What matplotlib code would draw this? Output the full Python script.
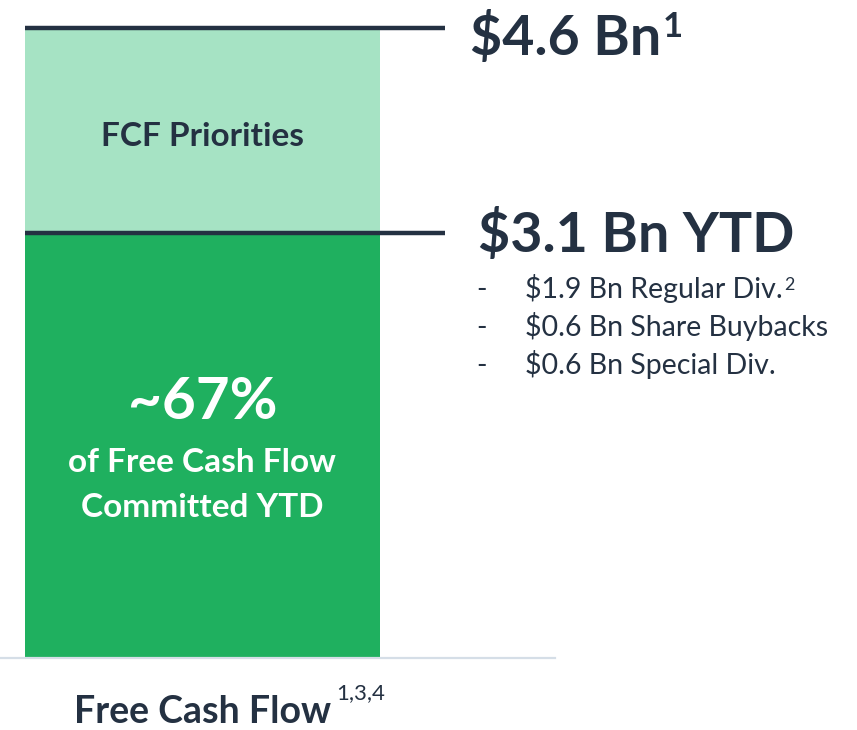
import matplotlib
matplotlib.use("Agg")
import matplotlib.pyplot as plt

# --- Data ---
categories = ["Free Cash Flow"]
committed = [3.1]          # $ Bn committed YTD
priorities = [1.5]         # remaining FCF priorities ($ Bn)
total = [4.6]              # total FCF ($ Bn)
total_label = "$4.6 Bn"
committed_label = "$3.1 Bn YTD"
bullet_items = ["$1.9 Bn Regular Div.", "$0.6 Bn Share Buybacks", "$0.6 Bn Special Div."]
share_text = "~67%"
share_sub = ["of Free Cash Flow", "Committed YTD"]
segment_text = "FCF Priorities"

# --- Styles ---
DARK = "#243142"
GREEN = "#1fb05f"
LIGHT = "#a6e3c4"
AXIS = "#d5dee7"
plt.rcParams["font.family"] = ["Lato", "DejaVu Sans"]

fig = plt.figure(figsize=(8.57, 7.3), dpi=100)
fig.patch.set_facecolor("white")
ax = fig.add_axes([0, 72 / 730, 555 / 857, 658 / 730])

x = list(range(len(categories)))
ax.bar(x, committed, width=1.0, color=GREEN, linewidth=0)
ax.bar(x, priorities, bottom=committed, width=1.0, color=LIGHT, linewidth=0)

ax.set_xlim(-0.570, 0.993)
ax.set_ylim(0, total[0] * 658 / 630)

# leader lines at the segment tops
line_end = 0.683
ax.hlines([total[0], committed[0]], -0.5, line_end, colors=DARK, linewidth=3.2,
          clip_on=False, zorder=4)

lab_x = 0.754
t1 = ax.annotate(total_label, xy=(lab_x, total[0]), xytext=(0, -19.5),
                 textcoords="offset points", fontsize=40, fontweight="bold",
                 color=DARK, ha="left", va="baseline", annotation_clip=False)
ax.annotate("1", xy=(1.0, 1.0), xycoords=t1, xytext=(1, 0),
            textcoords="offset points", fontsize=25, fontweight="bold",
            color=DARK, ha="left", va="top")

ax.annotate(committed_label, xy=(lab_x + 0.022, committed[0]), xytext=(0, -13.5),
            textcoords="offset points", fontsize=40, fontweight="bold",
            color=DARK, ha="left", va="baseline", annotation_clip=False)

for i, item in enumerate(bullet_items):
    dy = -(65 + 38 * i) / 1.389
    ax.annotate("-", xy=(0.772, committed[0]), xytext=(0, dy),
                textcoords="offset points", fontsize=20.5, color=DARK,
                ha="left", va="baseline", annotation_clip=False)
    tb = ax.annotate(item, xy=(0.908, committed[0]), xytext=(0, dy),
                     textcoords="offset points", fontsize=20.5, color=DARK,
                     ha="left", va="baseline", annotation_clip=False)
    if i == 0:
        ax.annotate("2", xy=(1.0, 1.0), xycoords=tb, xytext=(1, -2),
                    textcoords="offset points", fontsize=13, color=DARK,
                    ha="left", va="top")

# text inside the bars
mid_dark = committed[0] / 2
ax.annotate(share_text, xy=(0, mid_dark), xytext=(0, 19.4), textcoords="offset points",
            fontsize=42, fontweight="bold", color="white", ha="center", va="baseline")
for j, line in enumerate(share_sub):
    ax.annotate(line, xy=(0, mid_dark), xytext=(0, -18.7 - 32.4 * j),
                textcoords="offset points", fontsize=24, fontweight="bold",
                color="white", ha="center", va="baseline")

mid_light = committed[0] + priorities[0] / 2
ax.annotate(segment_text, xy=(0, mid_light), xytext=(0, -11), textcoords="offset points",
            fontsize=24, fontweight="bold", color=DARK, ha="center", va="baseline")

# category label under the axis
tc = ax.annotate(categories[0], xy=(0, 0), xytext=(0, -47), textcoords="offset points",
                 fontsize=27, fontweight="bold", color=DARK, ha="center",
                 va="baseline", annotation_clip=False)
ax.annotate("1,3,4", xy=(1.0, 1.0), xycoords=tc, xytext=(4, 9),
            textcoords="offset points", fontsize=16, color=DARK,
            ha="left", va="top")

for side in ["top", "right", "left"]:
    ax.spines[side].set_visible(False)
ax.spines["bottom"].set_color(AXIS)
ax.spines["bottom"].set_linewidth(1.6)
ax.set_xticks([])
ax.set_yticks([])
ax.patch.set_alpha(0)

fig.savefig("out.png", dpi=100)
